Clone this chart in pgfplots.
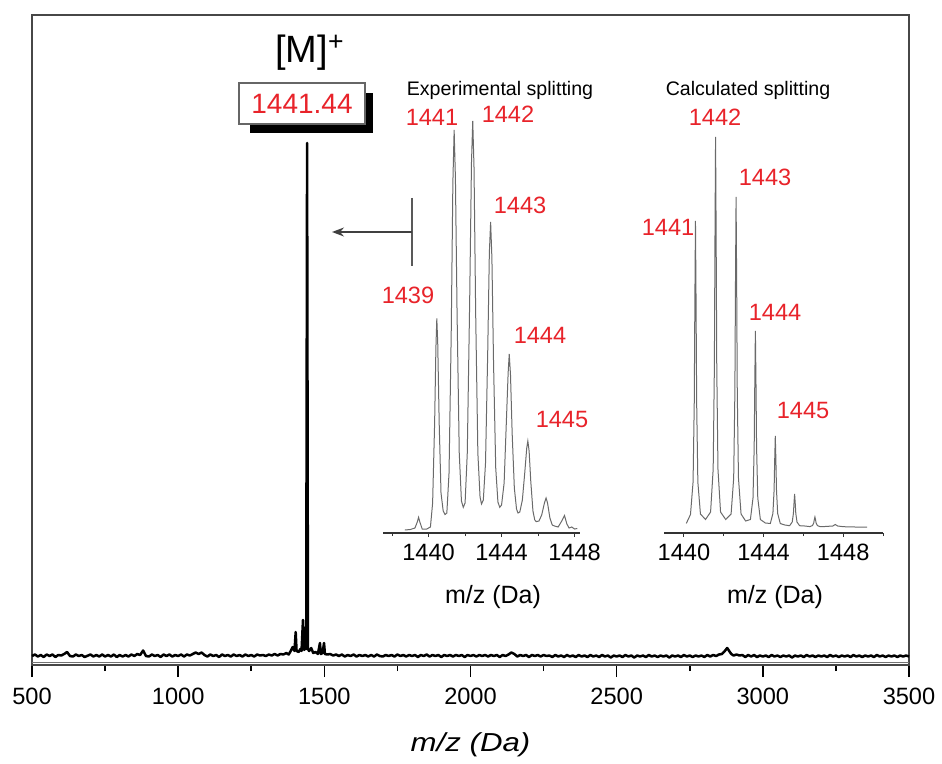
\documentclass[border=0pt]{standalone}
\usepackage{pgfplots}
\pgfplotsset{compat=1.18}
\usepackage{fontspec}
\setmainfont{Liberation Sans}
\usetikzlibrary{arrows.meta}
\definecolor{lblred}{HTML}{E8232A}
\definecolor{specgray}{HTML}{6A6A6A}

\begin{document}
\begin{tikzpicture}
\begin{scope}[x=0.5pt,y=0.5pt]
\path[use as bounding box] (0,0) rectangle (942,763);
\end{scope}

% ---------------- main spectrum ----------------
\begin{axis}[
  at={(16pt,49pt)}, anchor=south west, scale only axis,
  width=438.5pt, height=325pt,
  xmin=500, xmax=3500, ymin=0, ymax=650,
  xtick={500,1000,...,3500}, minor x tick num=1, ytick=\empty,
  xtick pos=bottom, tick align=outside,
  major tick length=6pt, minor tick length=3pt,
  tick style={line width=0.8pt, black},
  axis line style={line width=1pt, black!72},
  xticklabel style={font=\fontsize{11.8}{14}\selectfont, yshift=-2pt},
  /pgf/number format/assume math mode=true,
  /pgf/number format/set thousands separator={},
  xlabel={m/z (Da)},
  xlabel style={at={(axis description cs:0.5,-0.123)}, anchor=center,
    font=\fontsize{13}{15}\selectfont\addfontfeatures{FakeStretch=1.2}\itshape},
  clip=false]
\addplot[black!55, line width=0.5pt] coordinates {(500,3) (3500,3)};
\addplot[black, line width=1.25pt, line join=round] coordinates {
(500,9) (510,10.5) (520,8.5) (530,10) (540,8) (550,10.5) (560,9) (570,10.5) (580,8) (590,10) (600,9.5) (610,11) (620,13) (630,9) (640,8.5) (650,10.5) (660,9) (670,10) (680,8)
(700,10.5) (710,8.5) (720,10) (730,8.5) (740,10.5) (750,8.5) (760,10) (770,8.5) (780,10.5) (790,8) (800,10) (810,8.5) (820,10) (830,8.5) (840,10.5) (850,9) (860,11) (870,10) (880,14.5)
(890,9) (900,8.5) (910,10.5) (920,9) (930,10) (940,8) (950,10.5) (960,9) (970,10.5) (980,8.5) (990,10) (1000,9) (1010,10.5) (1020,8.5) (1030,10.5) (1040,9.5) (1050,11) (1060,12.5) (1070,11) (1080,12.5)
(1090,10) (1100,8.5) (1110,10.5) (1120,9) (1130,10) (1140,8) (1150,10.5) (1160,9) (1170,10) (1180,8.5) (1190,10.5) (1200,9) (1210,10) (1220,8.5) (1230,10.5) (1240,9) (1250,10) (1260,8.5) (1270,10.5) (1280,9.5)
(1290,10) (1300,9) (1310,10.5) (1320,9.5) (1330,11) (1340,9.5) (1350,11) (1360,10.5) (1370,12) (1378,10.5) (1385,14) (1392,18) (1398,14) (1402,33) (1405,14)
(1412,13) (1418,16) (1422,14) (1427,45) (1431,15) (1435,18) (1438,16) (1441,522) (1444,16) (1448,14)
(1455,17) (1462,12) (1470,13) (1478,11) (1485,22) (1488,11) (1494,12) (1499,22) (1502,11) (1510,10.5)
(1520,11) (1530,9.5) (1540,10.5) (1550,9) (1560,10.5) (1570,8.5) (1580,10) (1590,9) (1600,10.5) (1610,8.5) (1620,10) (1630,9) (1640,10) (1650,8.5) (1660,10) (1670,8.5) (1680,10.5) (1690,9) (1700,8.5)
(1710,10) (1720,9) (1730,10) (1740,8.5) (1750,10.5) (1760,9) (1770,10) (1780,8.5) (1790,10) (1800,9) (1810,10) (1820,8) (1830,10) (1840,9) (1850,10.5) (1860,8.5) (1870,10) (1880,9) (1890,10) (1900,8)
(1910,10) (1920,9) (1930,10) (1940,8.5) (1950,10) (1960,9) (1970,10) (1980,8) (1990,10) (2000,9) (2010,10) (2020,8.5) (2030,10) (2040,9) (2050,10) (2060,8.5) (2070,10) (2080,9) (2090,10) (2100,8)
(2110,10) (2120,9) (2130,10.5) (2140,12.5) (2150,11) (2160,8.5) (2170,10) (2180,9) (2190,10) (2200,8) (2210,10) (2220,9) (2230,10) (2240,8.5) (2250,10) (2260,9) (2270,9.5) (2280,8) (2290,10) (2300,8.5)
(2310,9.5) (2320,8) (2330,10) (2340,8.5) (2350,9.5) (2360,8) (2370,10) (2380,8.5) (2390,9.5) (2400,8) (2410,10) (2420,8.5) (2430,9.5) (2440,8) (2450,10) (2460,8.5) (2470,9.5) (2480,7.5) (2490,9.5) (2500,8.5)
(2510,9.5) (2520,8) (2530,10) (2540,8.5) (2550,9.5) (2560,7.5) (2570,9.5) (2580,8.5) (2590,9.5) (2600,8) (2610,10) (2620,8.5) (2630,9.5) (2640,8) (2650,9.5) (2660,8.5) (2670,9.5) (2680,7.5) (2690,9.5) (2700,8.5)
(2710,9.5) (2720,8) (2730,10) (2740,8.5) (2750,9.5) (2760,8) (2770,9.5) (2780,8.5) (2790,9.5) (2800,8) (2810,10) (2820,8.5) (2830,10) (2840,9) (2850,10.5) (2860,11) (2870,14) (2878,17) (2885,14) (2892,11)
(2900,9.5) (2910,10.5) (2920,9.5) (2930,10) (2940,8) (2950,10) (2960,8.5) (2970,10) (2980,8) (2990,9.5) (3000,8.5) (3010,9.5) (3020,8) (3030,10) (3040,8.5) (3050,9.5) (3060,8) (3070,9.5) (3080,8.5) (3090,9.5)
(3100,7.5) (3110,9.5) (3120,8.5) (3130,9.5) (3140,8) (3150,10) (3160,8.5) (3170,9.5) (3180,8) (3190,9.5) (3200,8.5) (3210,9.5) (3220,8) (3230,10) (3240,8.5) (3250,9.5) (3260,8) (3270,9.5) (3280,8.5) (3290,9.5)
(3300,8) (3310,10) (3320,8.5) (3330,9.5) (3340,8) (3350,9.5) (3360,8.5) (3370,9.5) (3380,8) (3390,10) (3400,8.5) (3410,9.5) (3420,8) (3430,9.5) (3440,8.5) (3450,9.5) (3460,8) (3470,9.5) (3480,8.5) (3490,9.5)
(3500,8.5)};
\end{axis}

% ---------------- inset 1: experimental ----------------
\begin{axis}[
  at={(191.5pt,115pt)}, anchor=south west, scale only axis,
  width=98.5pt, height=215pt,
  xmin=1437.5, xmax=1448.3, ymin=0, ymax=430,
  axis x line=bottom, axis y line=none,
  x axis line style={-, black!80, line width=0.6pt},
  xtick={1440,1444,1448}, minor xtick={1438,1442,1446},
  tick align=outside, major tick length=2pt, minor tick length=1.5pt,
  tick style={black!80, line width=0.5pt},
  xticklabel style={font=\fontsize{11.8}{14}\selectfont},
  /pgf/number format/assume math mode=true,
  /pgf/number format/set thousands separator={},
  clip=false]
\addplot[specgray, line width=0.5pt] coordinates {
(1438.7,3) (1439.0,3.5) (1439.25,5) (1439.38,11) (1439.45,15.7) (1439.52,11) (1439.65,4) (1439.9,4)
(1440.1,6) (1440.22,30) (1440.33,110) (1440.4,185) (1440.45,214.5) (1440.5,190) (1440.58,110) (1440.68,40)
(1440.8,22) (1440.9,18.5) (1441.0,20) (1441.12,60) (1441.24,200) (1441.33,350) (1441.4,403) (1441.47,355)
(1441.56,220) (1441.68,80) (1441.8,32) (1441.9,25.7) (1442.0,30) (1442.12,80) (1442.25,230) (1442.35,370)
(1442.42,412) (1442.49,365) (1442.58,220) (1442.7,80) (1442.82,36) (1442.9,29) (1443.0,33) (1443.12,70)
(1443.24,180) (1443.33,280) (1443.4,311) (1443.47,275) (1443.56,170) (1443.68,65) (1443.8,31) (1443.9,25.7)
(1444.0,28) (1444.14,50) (1444.26,110) (1444.36,160) (1444.42,179) (1444.49,158) (1444.58,100) (1444.7,45)
(1444.82,24) (1444.9,20) (1445.0,21) (1445.14,33) (1445.27,60) (1445.38,85) (1445.44,92) (1445.51,82)
(1445.6,52) (1445.72,22) (1445.82,13) (1445.9,11.4) (1446.05,12) (1446.2,18) (1446.35,30) (1446.44,35)
(1446.52,30) (1446.65,15) (1446.78,8) (1446.9,7) (1447.1,6) (1447.3,12) (1447.45,17.5) (1447.58,9)
(1447.7,5) (1447.85,6) (1448.0,4) (1448.15,4.5)};
\end{axis}

% ---------------- inset 2: calculated ----------------
\begin{axis}[
  at={(332pt,115pt)}, anchor=south west, scale only axis,
  width=109.5pt, height=215pt,
  xmin=1439, xmax=1450, ymin=0, ymax=430,
  axis x line=bottom, axis y line=none,
  x axis line style={-, black!80, line width=0.6pt},
  xtick={1440,1444,1448}, minor xtick={1442,1446,1450},
  tick align=outside, major tick length=2pt, minor tick length=1.5pt,
  tick style={black!80, line width=0.5pt},
  xticklabel style={font=\fontsize{11.8}{14}\selectfont},
  /pgf/number format/assume math mode=true,
  /pgf/number format/set thousands separator={},
  clip=false]
\addplot[specgray, line width=0.5pt] coordinates {
(1440.12,9.6) (1440.33,18.5) (1440.46,51) (1440.52,131) (1440.55,231) (1440.58,312) (1440.61,231) (1440.64,131)
(1440.70,51) (1440.83,19) (1441.085,13.5) (1441.34,21) (1441.47,64) (1441.53,166) (1441.56,293) (1441.59,396)
(1441.62,293) (1441.65,166) (1441.71,64) (1441.84,21) (1442.1,13.5) (1442.37,19) (1442.50,55) (1442.56,141)
(1442.59,249) (1442.62,336) (1442.65,249) (1442.68,141) (1442.74,55) (1442.87,19) (1443.1,12) (1443.34,13.5)
(1443.47,35) (1443.53,86) (1443.56,150) (1443.59,202) (1443.62,150) (1443.65,86) (1443.71,35) (1443.84,13.5)
(1444.09,10) (1444.34,9.5) (1444.47,19.5) (1444.53,43) (1444.56,73) (1444.59,97) (1444.62,73) (1444.65,43)
(1444.71,19.5) (1444.84,9.5) (1445.07,8) (1445.31,7.3) (1445.44,11) (1445.50,19.5) (1445.53,30) (1445.56,39)
(1445.59,30) (1445.62,19.5) (1445.68,11) (1445.81,7.3) (1446.07,7) (1446.33,6.4) (1446.46,7.5) (1446.52,10)
(1446.55,13.4) (1446.58,16) (1446.61,13.4) (1446.64,10) (1446.70,7.5) (1446.83,6.4) (1447.09,6.5) (1447.48,7)
(1447.6,8.5) (1447.72,7) (1448.0,6.3) (1448.6,6) (1449.2,6)};
\end{axis}

% ---------------- annotations ----------------
\begin{scope}[x=0.5pt,y=0.5pt]
\node[anchor=base west, inner sep=0, font=\fontsize{19}{22}\selectfont] at (275,700) {[M]\textsuperscript{+}};
\fill[black] (250,670) rectangle (373,630);
\draw[black!60, fill=white, line width=0.6pt] (239,680) rectangle (365,639);
\node[text=lblred, font=\fontsize{14}{16}\selectfont] at (302,659.5) {1441.44};
\draw[black!65, line width=0.7pt] (412,565) -- (412,497);
\draw[black!75, line width=0.7pt, -{Stealth[length=6pt,width=4.5pt]}] (412,531) -- (332,531);
\node[font=\fontsize{9.8}{12}\selectfont] at (500,673) {Experimental splitting};
\node[font=\fontsize{9.8}{12}\selectfont] at (748,673) {Calculated splitting};
\begin{scope}[every node/.style={text=lblred, font=\fontsize{11.8}{14}\selectfont}]
\node at (408,468) {1439};
\node at (432,646) {1441};
\node at (508,649) {1442};
\node at (520,558) {1443};
\node at (540,428) {1444};
\node at (562,344) {1445};
\node at (668,536) {1441};
\node at (715,646) {1442};
\node at (765,586) {1443};
\node at (775,451) {1444};
\node at (803,353) {1445};
\end{scope}
\node[font=\fontsize{12.5}{15}\selectfont] at (493,166) {m/z (Da)};
\node[font=\fontsize{12.5}{15}\selectfont] at (775,166) {m/z (Da)};
\end{scope}
\end{tikzpicture}
\end{document}
